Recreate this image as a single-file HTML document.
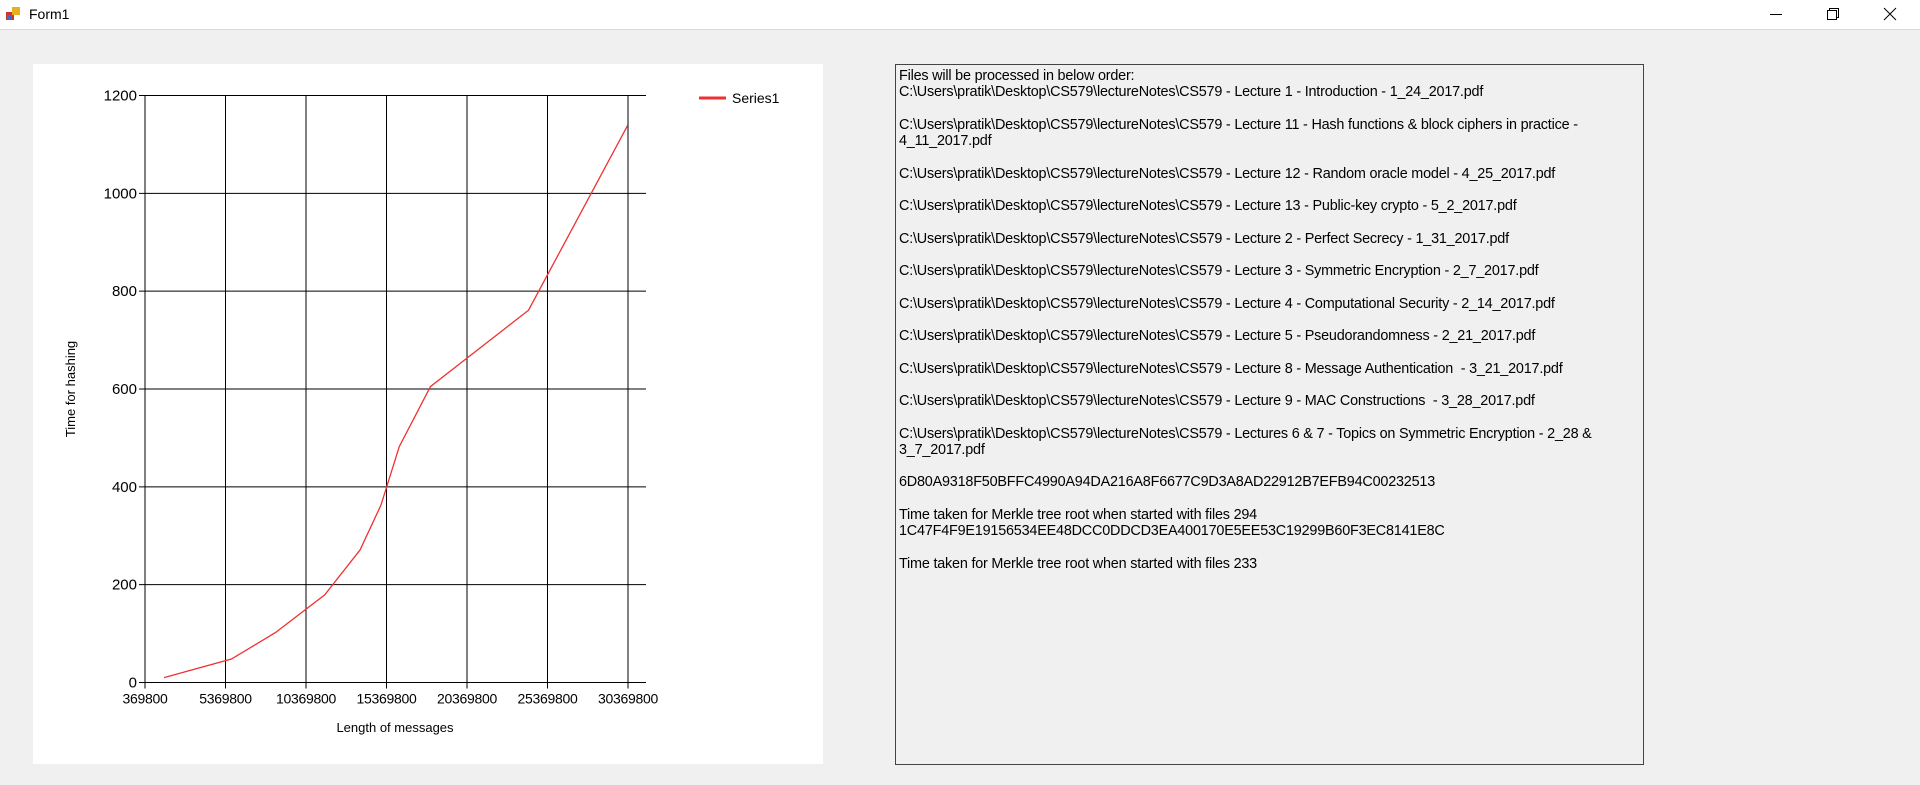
<!DOCTYPE html>
<html><head><meta charset="utf-8"><style>
body{margin:0;width:1920px;height:785px;background:#f0f0f0;position:relative;overflow:hidden;font-family:"Liberation Sans",sans-serif}
#titlebar{position:absolute;left:0;top:0;width:1920px;height:29px;background:#fff;border-bottom:1px solid #dadada}
#title{position:absolute;left:29px;top:6px;font-size:14px;color:#000}
#icon{position:absolute;left:5px;top:6px;width:16px;height:16px}
.wb{position:absolute;top:0;width:46px;height:29px}
#panel{position:absolute;left:33px;top:64px;width:790px;height:700px;background:#fff}
#log{position:absolute;left:895px;top:64px;width:749px;height:701px;border:1px solid #444;box-sizing:border-box;background:#f0f0f0;padding:3px 3px;font-size:14.4px;line-height:16.25px;white-space:pre;color:#000;letter-spacing:-0.2px}
</style></head><body>
<div id="titlebar">
 <svg id="icon" viewBox="0 0 16 16"><rect x="1" y="6" width="8" height="8" fill="#c33"/><rect x="7" y="1" width="8" height="8" fill="#e8b020"/><rect x="2" y="9" width="5" height="5" fill="#3a6fd0"/></svg>
 <div id="title">Form1</div>
 <svg class="wb" style="left:1753px" viewBox="0 0 46 29"><line x1="17" y1="14.5" x2="29" y2="14.5" stroke="#000"/></svg>
 <svg class="wb" style="left:1809px" viewBox="0 0 46 29"><rect x="18.5" y="10.5" width="9" height="9" fill="none" stroke="#000"/><path d="M20.5 10.5V8.5h9v9h-2" fill="none" stroke="#000"/></svg>
 <svg class="wb" style="left:1867px" viewBox="0 0 46 29"><path d="M17 8l12 12M29 8L17 20" stroke="#000"/></svg>
</div>
<div id="panel">
<svg id="chart" width="790" height="700"></svg>
</div>
<div id="log">Files will be processed in below order:
C:\Users\pratik\Desktop\CS579\lectureNotes\CS579 - Lecture 1 - Introduction - 1_24_2017.pdf

C:\Users\pratik\Desktop\CS579\lectureNotes\CS579 - Lecture 11 - Hash functions &amp; block ciphers in practice -
4_11_2017.pdf

C:\Users\pratik\Desktop\CS579\lectureNotes\CS579 - Lecture 12 - Random oracle model - 4_25_2017.pdf

C:\Users\pratik\Desktop\CS579\lectureNotes\CS579 - Lecture 13 - Public-key crypto - 5_2_2017.pdf

C:\Users\pratik\Desktop\CS579\lectureNotes\CS579 - Lecture 2 - Perfect Secrecy - 1_31_2017.pdf

C:\Users\pratik\Desktop\CS579\lectureNotes\CS579 - Lecture 3 - Symmetric Encryption - 2_7_2017.pdf

C:\Users\pratik\Desktop\CS579\lectureNotes\CS579 - Lecture 4 - Computational Security - 2_14_2017.pdf

C:\Users\pratik\Desktop\CS579\lectureNotes\CS579 - Lecture 5 - Pseudorandomness - 2_21_2017.pdf

C:\Users\pratik\Desktop\CS579\lectureNotes\CS579 - Lecture 8 - Message Authentication  - 3_21_2017.pdf

C:\Users\pratik\Desktop\CS579\lectureNotes\CS579 - Lecture 9 - MAC Constructions  - 3_28_2017.pdf

C:\Users\pratik\Desktop\CS579\lectureNotes\CS579 - Lectures 6 &amp; 7 - Topics on Symmetric Encryption - 2_28 &amp;
3_7_2017.pdf

6D80A9318F50BFFC4990A94DA216A8F6677C9D3A8AD22912B7EFB94C00232513

Time taken for Merkle tree root when started with files 294
1C47F4F9E19156534EE48DCC0DDCD3EA400170E5EE53C19299B60F3EC8141E8C

Time taken for Merkle tree root when started with files 233</div>
<script>
const xTicks=[369800,5369800,10369800,15369800,20369800,25369800,30369800];
const yTicks=[0,200,400,600,800,1000,1200];
const xValues=[1550000,5740000,8470000,11530000,13730000,15030000,16160000,18100000,24190000,30350000];
const yValues=[10,48,102,179,271,363,482,605,761,1139];
const NS="http://www.w3.org/2000/svg";
const svg=document.getElementById('chart');
const X0=145-33,X1=628-33,Y0=682.5-64,Y1=95.5-64,XR=646-33;
function sx(v){return X0+(v-xTicks[0])/(xTicks[xTicks.length-1]-xTicks[0])*(X1-X0);}
function sy(v){return Y0-(v-yTicks[0])/(yTicks[yTicks.length-1]-yTicks[0])*(Y0-Y1);}
function mk(t,a){const e=document.createElementNS(NS,t);for(const k in a)e.setAttribute(k,a[k]);svg.appendChild(e);return e;}
yTicks.forEach(v=>{
 const l=mk('line',{x1:X0-6,x2:XR,y1:sy(v),y2:sy(v),stroke:'#000','stroke-width':1});
 
 
 const t=mk('text',{x:X0-8,y:sy(v)+5,'text-anchor':'end','font-size':15,fill:'#000'});
 t.textContent=v;
 
 
});
xTicks.forEach(v=>{
 const l=mk('line',{x1:sx(v),x2:sx(v),y1:Y1,y2:Y0+6,stroke:'#000','stroke-width':1});
 
 
 const t=mk('text',{x:sx(v),y:Y0+21,'text-anchor':'middle','font-size':14,fill:'#000','letter-spacing':'-0.3'});
 t.textContent=v;
 
 
});
const pts=xValues.map((x,i)=>sx(x)+','+sy(yValues[i])).join(' ');
const pl=mk('polyline',{points:pts,fill:'none',stroke:'#f03030','stroke-width':1.3});


const yt=mk('text',{x:0,y:0,'text-anchor':'middle','font-size':13,fill:'#000',transform:'translate('+(71-33+4)+','+(389-64)+') rotate(-90)'});
yt.textContent='Time for hashing';


const xt=mk('text',{x:395-33,y:727-64+5,'text-anchor':'middle','font-size':13,fill:'#000'});
xt.textContent='Length of messages';


const ll=mk('line',{x1:699-33,x2:726-33,y1:98-64,y2:98-64,stroke:'#f03030','stroke-width':3});


const lt=mk('text',{x:732-33,y:98-64+5,'font-size':14,fill:'#000'});
lt.textContent='Series1';


</script>
</body></html>
